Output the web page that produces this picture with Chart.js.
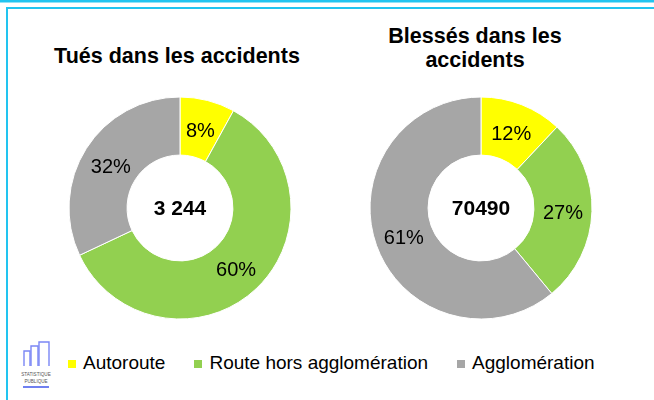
<!DOCTYPE html>
<html>
<head>
<meta charset="utf-8">
<script src="https://cdn.jsdelivr.net/npm/chart.js@4.4.1/dist/chart.umd.min.js"></script>
<style>
    body { margin: 0; width: 654px; height: 400px; overflow: hidden; background: #fff; position: relative;
           font-family: "Liberation Sans", Arial, sans-serif; color: #000; }
    #frame { position: absolute; left: 0; top: 0; }
    canvas { position: absolute; }
    .title { position: absolute; font-weight: bold; font-size: 21.5px; line-height: 24px; text-align: center; white-space: nowrap; }
    #legend { position: absolute; left: 68px; top: 352px; display: flex; gap: 29px; font-size: 19px; line-height: 22px; }
    #legend .item { display: flex; align-items: flex-start; white-space: nowrap; }
    #legend .box { width: 8px; height: 8px; margin-top: 8px; margin-right: 7px; }
</style>
</head>
<body>
<svg id="frame" width="654" height="400">
    <rect x="0" y="0" width="654" height="2.5" fill="#22c4f0"/>
    <rect x="6" y="7" width="648" height="2" fill="#22c4f0"/>
    <rect x="6" y="7" width="2" height="393" fill="#22c4f0"/>
    <!-- logo statistique publique -->
    <g fill="none" stroke="#7b87f5" stroke-width="1.4">
        <path d="M24,366 V351 H30 V366"/>
        <path d="M31,366 V346 H38 V366"/>
        <path d="M39,366 V342 H49 V366"/>
    </g>
    <text x="36" y="376" font-size="4.6" text-anchor="middle" fill="#555" font-family="Liberation Sans, Arial">STATISTIQUE</text>
    <text x="36" y="383" font-size="4.6" text-anchor="middle" fill="#555" font-family="Liberation Sans, Arial">PUBLIQUE</text>
    <rect x="23" y="386" width="26" height="2" fill="#7080f0"/>
</svg>

<div class="title" id="t1" style="left:27px; top:44px; width:300px"></div>
<div class="title" id="t2" style="left:325px; top:24px; width:300px"></div>

<canvas id="c1" width="240" height="240" style="left:60px; top:88px"></canvas>
<canvas id="c2" width="240" height="240" style="left:361px; top:88px"></canvas>

<div id="legend"></div>

<script>
// --- Data ---
const categories = ['Autoroute', 'Route hors agglomération', 'Agglomération'];
const tuesShares = [8, 60, 32];
const blessesShares = [12, 27, 61];
const chartTitles = ['Tués dans les accidents', 'Blessés dans les<br>accidents'];
const totals = ['3 244', '70490'];

const colors = ['#FFFF00', '#92D050', '#A6A6A6'];
const FONT = '"Liberation Sans", Arial, sans-serif';

// percent labels on slices + total in the hole
const sliceLabels = {
    id: 'sliceLabels',
    afterDatasetsDraw(chart, args, opts) {
        const ctx = chart.ctx;
        const meta = chart.getDatasetMeta(0);
        const values = chart.data.datasets[0].data;
        ctx.save();
        ctx.fillStyle = '#000';
        ctx.textAlign = 'center';
        ctx.textBaseline = 'middle';
        ctx.font = '20px ' + FONT;
        meta.data.forEach((arc, i) => {
            const p = arc.tooltipPosition();
            ctx.fillText(values[i] + '%', p.x, p.y + 3);
        });
        const area = chart.chartArea;
        ctx.font = 'bold 21px ' + FONT;
        ctx.fillText(opts.total, (area.left + area.right) / 2, (area.top + area.bottom) / 2 + 1);
        ctx.restore();
    }
};

function makeDonut(id, shares, total) {
    return new Chart(document.getElementById(id), {
        type: 'doughnut',
        data: {
            labels: categories,
            datasets: [{
                data: shares,
                backgroundColor: colors,
                borderColor: '#ffffff',
                borderWidth: 1,
                hoverOffset: 0
            }]
        },
        options: {
            responsive: false,
            animation: false,
            radius: 111,
            cutout: 57,
            layout: { padding: 0 },
            plugins: {
                legend: { display: false },
                tooltip: { enabled: false },
                sliceLabels: { total: total }
            }
        },
        plugins: [sliceLabels]
    });
}

document.getElementById('t1').innerHTML = chartTitles[0];
document.getElementById('t2').innerHTML = chartTitles[1];

makeDonut('c1', tuesShares, totals[0]);
makeDonut('c2', blessesShares, totals[1]);

// shared legend
const legend = document.getElementById('legend');
categories.forEach((name, i) => {
    const item = document.createElement('div');
    item.className = 'item';
    item.innerHTML = '<span class="box" style="background:' + colors[i] + '"></span><span>' + name + '</span>';
    legend.appendChild(item);
});
</script>
</body>
</html>
